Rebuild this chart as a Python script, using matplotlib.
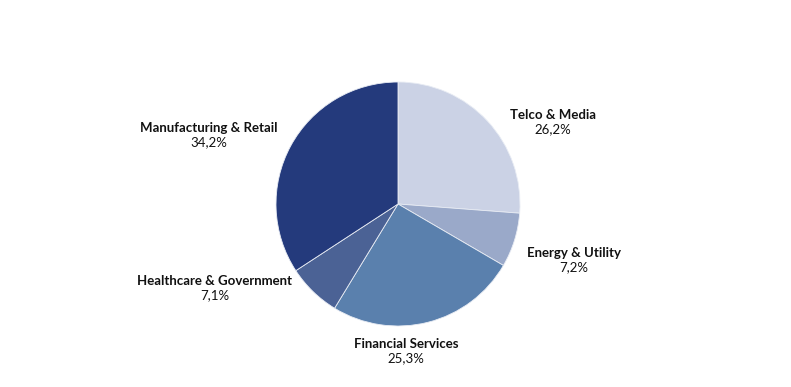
import matplotlib
matplotlib.use("Agg")
import matplotlib.pyplot as plt

categories = ["Telco & Media", "Energy & Utility", "Financial Services",
              "Healthcare & Government", "Manufacturing & Retail"]
shares = [26.2, 7.2, 25.3, 7.1, 34.2]
pct_labels = ["26,2%", "7,2%", "25,3%", "7,1%", "34,2%"]
colors = ["#cbd2e5", "#9aa9c9", "#5a80ad", "#4b6295", "#243a7c"]

# label centres in pixels (x, y of the bold line), image coords
label_px = [(553, 115), (574, 253), (406, 344), (215, 281), (209, 128)]

W, H = 791, 387
cx, cy, R = 398, 204, 122

fig = plt.figure(figsize=(W / 100, H / 100), dpi=100)
ax = fig.add_axes([0, 0, 1, 1])
ax.pie(shares, colors=colors, startangle=90, counterclock=False, radius=1,
       wedgeprops=dict(edgecolor="#e8ecf4", linewidth=0.6))
ax.set_xlim((0 - cx) / R, (W - cx) / R)
ax.set_ylim((cy - H) / R, cy / R)
ax.set_aspect("auto")
ax.axis("off")

for name, pct, (px, py) in zip(categories, pct_labels, label_px):
    x = (px - cx) / R
    y = (cy - py) / R
    ax.text(x, y, name, ha="center", va="center", fontsize=9.5,
            fontweight="bold", family="Lato", color="#111111")
    ax.text(x, y - 14 / R, pct, ha="center", va="center", fontsize=9.5,
            family="Lato", color="#111111")

fig.savefig("out.png", dpi=100)
